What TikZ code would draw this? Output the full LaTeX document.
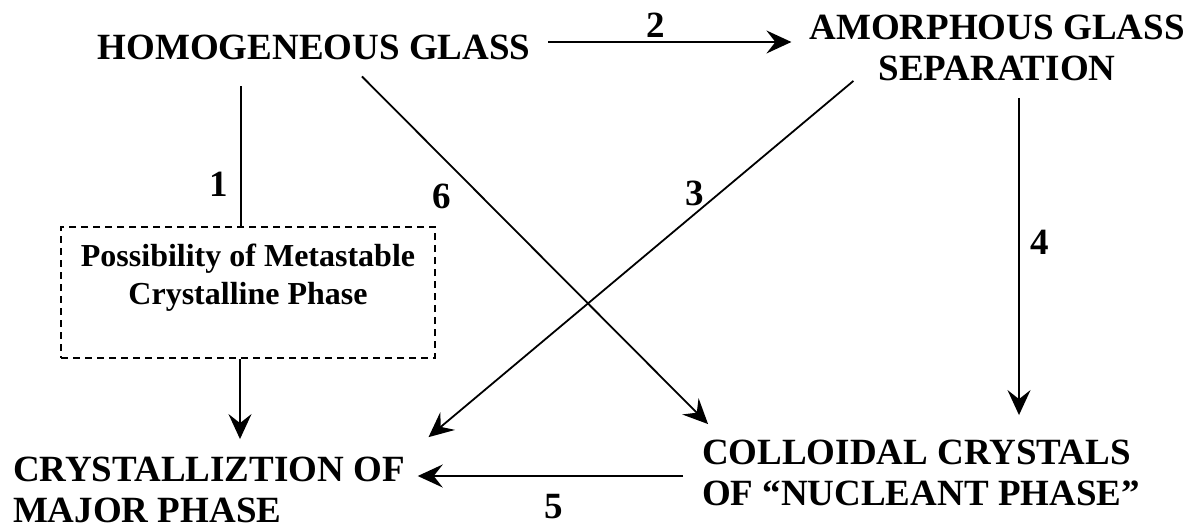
\documentclass[tikz,border=0pt]{standalone}
\usepackage{fontspec}
\setmainfont{Liberation Serif}
\usetikzlibrary{arrows.meta, positioning, calc}

\begin{document}
\begin{tikzpicture}[x=0.5pt, y=-0.5pt, >={Stealth[length=12.5pt, width=11.5pt, inset=4.5pt]}, line width=0.9pt,
  phase/.style={inner sep=0pt, outer sep=0pt, font=\fontsize{18.5}{20.5}\selectfont\bfseries},
  num/.style={inner sep=0pt, font=\fontsize{18.5}{20.5}\selectfont\bfseries},
  dashbox/.style={draw, dash pattern=on 3.5pt off 2.5pt, line width=0.8pt, inner sep=0pt, minimum width=187pt, minimum height=65.5pt}]

\useasboundingbox (0,0) rectangle (1197,529);

% Phases
\node[phase] (homog) at (314,47) {HOMOGENEOUS GLASS};
\node[phase, align=center] (amorph) at (997,48) {AMORPHOUS GLASS\\SEPARATION};
\node[phase, align=left, anchor=west] (crystal) at (13,490) {CRYSTALLIZTION OF\\MAJOR PHASE};
\node[phase, align=left, anchor=west] (colloid) at (702,473) {COLLOIDAL CRYSTALS\\OF ``NUCLEANT PHASE''};

% Metastable box
\node[dashbox] (meta) at (248,292.5) {};
\node[inner sep=0pt, align=center, font=\fontsize{16}{19}\selectfont\bfseries] (metatext) at (248,278) {Possibility of Metastable\\Crystalline Phase};

% Paths (numbered)
\draw[shorten <=13.5pt] ([xshift=-3.5pt]meta.north |- homog.south) -- node[num, pos=0.75, left=6pt] {1} ([xshift=-3.5pt]meta.north);
\draw[->, shorten <=9pt, shorten >=9pt] ([yshift=2.5pt]homog.east) -- node[num, pos=0.45, above=2pt] {2} ([yshift=2.5pt]homog.east -| amorph.west);
\draw[->, shorten >=15.5pt] ([xshift=22pt]amorph.south west) -- node[num, pos=0.3, left=7pt] {3} (crystal.north east);
\draw[->, shorten <=8.5pt, shorten >=12.5pt] ([xshift=11pt]amorph.south) -- node[num, pos=0.45, right=5.5pt] {4} ([xshift=11pt]amorph.south |- colloid.north);
\draw[->, shorten <=9.5pt, shorten >=6.5pt] ([yshift=-1.5pt]colloid.west) -- node[num, pos=0.5, below=8.5pt] {5} ([yshift=-1.5pt]colloid.west -| crystal.east);
\draw[->, shorten <=12pt, shorten >=11.3pt] ([xshift=15.5pt]homog.south) -- node[num, pos=0.36, left=15pt] {6} ([xshift=11pt]colloid.north west);

% Box to major phase
\draw[->, shorten >=9pt] ([xshift=-4pt]meta.south) -- ([xshift=-4pt]meta.south |- crystal.north);

\end{tikzpicture}
\end{document}
